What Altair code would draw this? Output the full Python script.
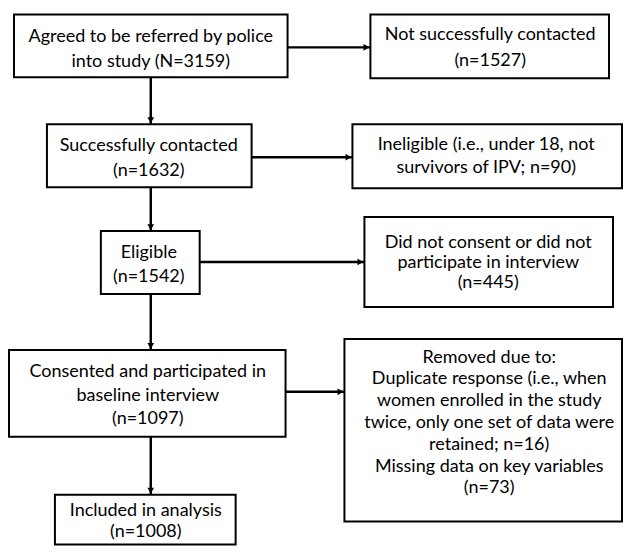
import altair as alt
import pandas as pd

# ---- content (flow-chart stages) ----
box_text = [
    "Agreed to be referred by police\ninto study (N=3159)",
    "Not successfully contacted\n(n=1527)",
    "Successfully contacted\n(n=1632)",
    "Ineligible (i.e., under 18, not\nsurvivors of IPV; n=90)",
    "Eligible\n(n=1542)",
    "Did not consent or did not\nparticipate in interview\n(n=445)",
    "Consented and participated in\nbaseline interview\n(n=1097)",
    "Removed due to:\nDuplicate response (i.e., when\nwomen enrolled in the study\ntwice, only one set of data were\nretained; n=16)\nMissing data on key variables\n(n=73)",
    "Included in analysis\n(n=1008)",
]

# ---- layout (pixel-like coordinates, y grows downward) ----
box_x0 = [13, 370, 46, 352, 100, 364, 8, 344, 54]
box_x1 = [287, 609, 251, 622, 199, 613, 285, 622, 235]
box_y0 = [14, 14, 124, 124, 231, 217, 350, 339, 495]
box_y1 = [77, 78, 187, 188, 294, 307, 437, 522, 545]
text_x = [150, 490, 148, 486, 148, 488, 147, 489, 145]
line_y = [
    [37, 62],
    [35, 61],
    [146, 171],
    [145, 168],
    [253, 277],
    [243, 263, 283],
    [372, 396, 419],
    [358, 379, 401, 423, 445, 467, 488],
    [511, 532],
]

# connectors: start, end, arrow direction
con_x = [150, 150, 150, 150, 287, 251, 199, 285]
con_y = [77, 187, 294, 437, 47, 157, 262, 392]
con_x2 = [150, 150, 150, 150, 370, 352, 364, 344]
con_y2 = [124, 231, 350, 495, 47, 157, 262, 392]
con_dir = ["down", "down", "down", "down", "right", "right", "right", "right"]

boxes = pd.DataFrame({"x0": box_x0, "x1": box_x1, "y0": box_y0, "y1": box_y1})

rows = []
for label, tx, ys_ in zip(box_text, text_x, line_y):
    for line, ty in zip(label.split("\n"), ys_):
        rows.append({"tx": tx, "ty": ty, "line": line})
lines_df = pd.DataFrame(rows)

cons = pd.DataFrame({"x": con_x, "y": con_y, "x2": con_x2, "y2": con_y2, "dir": con_dir})
cons["hx"] = [x2 - 4 if d == "right" else x2 for x2, d in zip(cons.x2, cons.dir)]
cons["hy"] = [y2 - 4 if d == "down" else y2 for y2, d in zip(cons.y2, cons.dir)]
cons["shape"] = ["triangle-down" if d == "down" else "triangle-right" for d in cons.dir]

xs = alt.Scale(domain=[8, 623], nice=False, zero=False)
ys = alt.Scale(domain=[8, 546], nice=False, zero=False, reverse=True)

rects = alt.Chart(boxes).mark_rect(fill="white", stroke="black", strokeWidth=2).encode(
    x=alt.X("x0:Q", scale=xs, axis=None), x2="x1:Q",
    y=alt.Y("y0:Q", scale=ys, axis=None), y2="y1:Q",
)

texts = alt.Chart(lines_df).mark_text(
    font="Lato", fontSize=18, align="center", baseline="middle", color="black",
).encode(
    x=alt.X("tx:Q", scale=xs, axis=None),
    y=alt.Y("ty:Q", scale=ys, axis=None),
    text="line:N",
)

rules = alt.Chart(cons).mark_rule(color="black", strokeWidth=2.5).encode(
    x=alt.X("x:Q", scale=xs, axis=None), x2="x2:Q",
    y=alt.Y("y:Q", scale=ys, axis=None), y2="y2:Q",
)

heads = alt.Chart(cons).mark_point(filled=True, color="black", opacity=1, size=45).encode(
    x=alt.X("hx:Q", scale=xs, axis=None),
    y=alt.Y("hy:Q", scale=ys, axis=None),
    shape=alt.Shape("shape:N", scale=None, legend=None),
)

chart = alt.layer(rules, heads, rects, texts).properties(
    width=615, height=538, padding=0, background="white"
).configure_view(stroke=None)

chart.save("out.html", embed_options={"renderer": "svg", "actions": False})
